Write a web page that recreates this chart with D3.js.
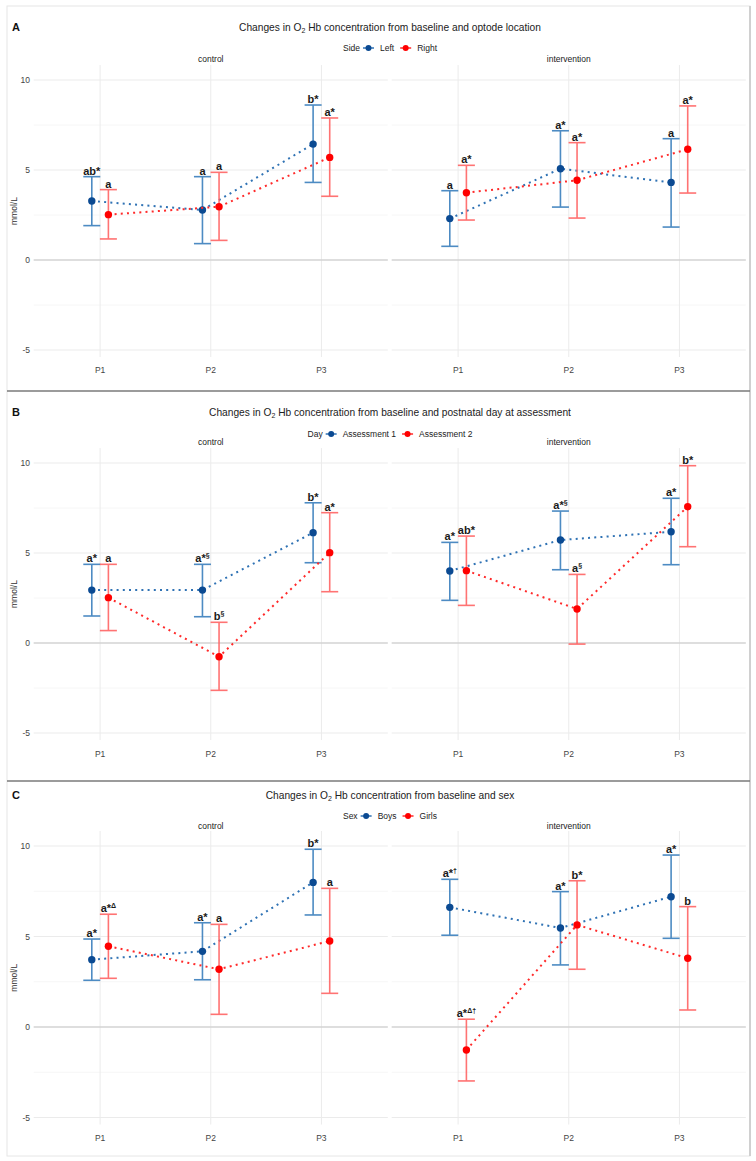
<!DOCTYPE html>
<html>
<head>
<meta charset="utf-8">
<script src="https://cdn.jsdelivr.net/npm/d3@7"></script>
<style>
  body { margin: 0; background: #fff; }
  text { font-family: "Liberation Sans", Arial, sans-serif; }
</style>
</head>
<body>
<script>
// facets and x categories
var periods = ["P1", "P2", "P3"];
var groups = ["control", "intervention"];
var yTicks = [-5, 0, 5, 10];
var yMinor = [-2.5, 2.5, 7.5];

// values are ordered control P1..P3, then intervention P1..P3

// A: optode location
var aSeries = ["Left", "Right"];
var aLeftMean  = [3.28, 2.78, 6.44, 2.30, 5.07, 4.31];
var aLeftLow   = [1.91, 0.91, 4.31, 0.76, 2.94, 1.83];
var aLeftHigh  = [4.63, 4.63, 8.61, 3.85, 7.18, 6.74];
var aLeftSig   = ["ab*", "a", "b*", "a", "a*", "a"];
var aRightMean = [2.52, 2.96, 5.70, 3.74, 4.43, 6.15];
var aRightLow  = [1.17, 1.09, 3.54, 2.22, 2.33, 3.72];
var aRightHigh = [3.91, 4.87, 7.89, 5.26, 6.52, 8.56];
var aRightSig  = ["a", "a", "a*", "a*", "a*", "a*"];

// B: postnatal day at assessment
var bSeries = ["Assessment 1", "Assessment 2"];
var bDay1Mean = [2.94, 2.94, 6.13, 4.00, 5.72, 6.18];
var bDay1Low  = [1.50, 1.46, 4.46, 2.37, 4.07, 4.35];
var bDay1High = [4.37, 4.37, 7.79, 5.59, 7.33, 8.04];
var bDay1Sig  = ["a*", "a*§", "b*", "a*", "a*§", "a*"];
var bDay2Mean = [2.52, -0.76, 5.02, 4.02, 1.89, 7.57];
var bDay2Low  = [0.69, -2.63, 2.85, 2.09, -0.06, 5.35];
var bDay2High = [4.37, 1.15, 7.24, 5.94, 3.81, 9.85];
var bDay2Sig  = ["a", "b§", "a*", "ab*", "a§", "b*"];

// C: sex
var cSeries = ["Boys", "Girls"];
var cBoysMean  = [3.72, 4.18, 7.99, 6.61, 5.47, 7.20];
var cBoysLow   = [2.58, 2.61, 6.19, 5.07, 3.43, 4.90];
var cBoysHigh  = [4.86, 5.76, 9.82, 8.16, 7.48, 9.50];
var cBoysSig   = ["a*", "a*", "b*", "a*†", "a*", "a*"];
var cGirlsMean = [4.46, 3.19, 4.75, -1.27, 5.64, 3.80];
var cGirlsLow  = [2.69, 0.70, 1.86, -2.98, 3.19, 0.94];
var cGirlsHigh = [6.23, 5.67, 7.66, 0.43, 8.08, 6.65];
var cGirlsSig  = ["a*Δ", "a", "a", "a*Δ†", "b*", "b"];

var width = 756, height = 1161;

var barCol = ["#3a7fbd", "#ff6464"];
var ptCol = ["#0b4a92", "#ff0000"];
var lineCol = ["#2f72b4", "#ff2a2a"];

var svg = d3.select("body").append("svg")
    .attr("width", width)
    .attr("height", height);

svg.append("rect").attr("width", width).attr("height", height).attr("fill", "#fff");

// outer frame and separators
svg.append("rect")
    .attr("x", 7).attr("y", 6).attr("width", 743).attr("height", 1150)
    .attr("fill", "none").attr("stroke", "#e6e6e6").attr("stroke-width", 1);
svg.append("line").attr("x1", 750).attr("x2", 750).attr("y1", 6).attr("y2", 1156)
    .attr("stroke", "#d0d0d0").attr("stroke-width", 2);
[391, 781].forEach(function(y) {
    svg.append("line").attr("x1", 7).attr("x2", 750).attr("y1", y).attr("y2", y)
        .attr("stroke", "#7a7a7a").attr("stroke-width", 1.5);
});

function rows(mean, low, high, sig) {
    return mean.map(function(m, i) {
        return { group: groups[Math.floor(i / 3)], period: periods[i % 3],
                 mean: m, low: low[i], high: high[i], sig: sig[i] };
    });
}

var panels = [
    { letter: "A", title: " from baseline and optode location", legendTitle: "Side",
      names: aSeries, zero: 260, ppu: 18, titleY: 27, legendY: 48, stripY: 59, tickY: 370,
      series: [rows(aLeftMean, aLeftLow, aLeftHigh, aLeftSig),
               rows(aRightMean, aRightLow, aRightHigh, aRightSig)] },
    { letter: "B", title: " from baseline and postnatal day at assessment", legendTitle: "Day",
      names: bSeries, zero: 643, ppu: 18, titleY: 412, legendY: 434, stripY: 442, tickY: 754,
      series: [rows(bDay1Mean, bDay1Low, bDay1High, bDay1Sig),
               rows(bDay2Mean, bDay2Low, bDay2High, bDay2Sig)] },
    { letter: "C", title: " from baseline and sex", legendTitle: "Sex",
      names: cSeries, zero: 1027, ppu: 18.1, titleY: 795, legendY: 816, stripY: 826, tickY: 1138,
      series: [rows(cBoysMean, cBoysLow, cBoysHigh, cBoysSig),
               rows(cGirlsMean, cGirlsLow, cGirlsHigh, cGirlsSig)] }
];

var facetRange = { control: [33.7, 387.8], intervention: [391.7, 745.8] };
var dodge = [-8.3, 8.3];
var centerX = 390;

panels.forEach(function(p) {
    var g = svg.append("g");

    var y = d3.scaleLinear()
        .domain([-5.39, 10.83])
        .range([p.zero + 5.39 * p.ppu, p.zero - 10.83 * p.ppu]);
    var top = y.range()[1], bottom = y.range()[0];

    // panel letter
    g.append("text").attr("x", 12).attr("y", p.titleY)
        .attr("dominant-baseline", "central")
        .attr("font-size", 11).attr("font-weight", "bold").attr("fill", "#111")
        .text(p.letter);

    // title with subscript
    var t = g.append("text").attr("x", centerX).attr("y", p.titleY)
        .attr("dominant-baseline", "central").attr("text-anchor", "middle")
        .attr("font-size", 10.2).attr("fill", "#222");
    t.append("tspan").text("Changes in  O");
    t.append("tspan").attr("font-size", 7).attr("dy", 3).text("2");
    t.append("tspan").attr("dy", -3).text(" Hb concentration" + p.title);

    // legend
    var lg = g.append("g");
    var lx = 0;
    var lt = lg.append("text").attr("x", lx).attr("y", p.legendY)
        .attr("dominant-baseline", "central").attr("font-size", 8.5).attr("fill", "#222")
        .text(p.legendTitle);
    lx += lt.node().getComputedTextLength() + 3;
    p.names.forEach(function(nm, i) {
        lg.append("line").attr("x1", lx).attr("x2", lx + 11)
            .attr("y1", p.legendY).attr("y2", p.legendY)
            .attr("stroke", lineCol[i]).attr("stroke-width", 1.5);
        lg.append("circle").attr("cx", lx + 5.5).attr("cy", p.legendY).attr("r", 3)
            .attr("fill", ptCol[i]);
        lx += 17;
        var tt = lg.append("text").attr("x", lx).attr("y", p.legendY)
            .attr("dominant-baseline", "central").attr("font-size", 8.5).attr("fill", "#222")
            .text(nm);
        lx += tt.node().getComputedTextLength() + 6;
    });
    lg.attr("transform", "translate(" + (centerX - (lx - 6) / 2) + ",0)");

    // y axis
    g.append("text")
        .attr("transform", "translate(14," + ((top + bottom) / 2) + ") rotate(-90)")
        .attr("text-anchor", "middle").attr("dominant-baseline", "central")
        .attr("font-size", 8.5).attr("fill", "#333")
        .text("mmol/L");
    g.selectAll(".ytick").data(yTicks).enter().append("text")
        .attr("x", 30).attr("y", function(d) { return y(d); })
        .attr("text-anchor", "end").attr("dominant-baseline", "central")
        .attr("font-size", 8.5).attr("fill", "#444")
        .text(function(d) { return d; });

    groups.forEach(function(grp) {
        var x = d3.scalePoint().domain(periods).range(facetRange[grp]).padding(0.6);
        var x0 = facetRange[grp][0], x1 = facetRange[grp][1];
        var fg = g.append("g");

        // strip
        fg.append("text").attr("x", (x0 + x1) / 2).attr("y", p.stripY)
            .attr("text-anchor", "middle").attr("dominant-baseline", "central")
            .attr("font-size", 8.5).attr("fill", "#222").text(grp);

        // grid
        fg.selectAll(".minor").data(yMinor).enter().append("line")
            .attr("x1", x0).attr("x2", x1)
            .attr("y1", function(d) { return y(d); }).attr("y2", function(d) { return y(d); })
            .attr("stroke", "#f4f4f4").attr("stroke-width", 0.8);
        fg.selectAll(".major").data(yTicks).enter().append("line")
            .attr("x1", x0).attr("x2", x1)
            .attr("y1", function(d) { return y(d); }).attr("y2", function(d) { return y(d); })
            .attr("stroke", "#ebebeb").attr("stroke-width", 1);
        fg.selectAll(".vgrid").data(periods).enter().append("line")
            .attr("x1", function(d) { return x(d); }).attr("x2", function(d) { return x(d); })
            .attr("y1", top).attr("y2", bottom)
            .attr("stroke", "#ebebeb").attr("stroke-width", 1);
        fg.append("line").attr("x1", x0).attr("x2", x1)
            .attr("y1", y(0)).attr("y2", y(0))
            .attr("stroke", "#c8c8c8").attr("stroke-width", 1.2);

        // x tick labels
        fg.selectAll(".xtick").data(periods).enter().append("text")
            .attr("x", function(d) { return x(d); }).attr("y", p.tickY)
            .attr("text-anchor", "middle").attr("dominant-baseline", "central")
            .attr("font-size", 8.5).attr("fill", "#444")
            .text(function(d) { return d; });

        p.series.forEach(function(s, si) {
            var data = s.filter(function(d) { return d.group === grp; });
            var px = function(d) { return x(d.period) + dodge[si]; };

            // dotted connecting line
            var line = d3.line().x(px).y(function(d) { return y(d.mean); });
            fg.append("path").datum(data)
                .attr("d", line).attr("fill", "none")
                .attr("stroke", lineCol[si]).attr("stroke-width", 2)
                .attr("stroke-dasharray", "2,4.2");

            // error bars
            var eb = fg.selectAll(".eb" + si).data(data).enter().append("g")
                .attr("stroke", barCol[si]).attr("stroke-width", 1.6).attr("opacity", 0.9);
            eb.append("line")
                .attr("x1", px).attr("x2", px)
                .attr("y1", function(d) { return y(d.low); })
                .attr("y2", function(d) { return y(d.high); });
            eb.append("line")
                .attr("x1", function(d) { return px(d) - 8.5; })
                .attr("x2", function(d) { return px(d) + 8.5; })
                .attr("y1", function(d) { return y(d.high); })
                .attr("y2", function(d) { return y(d.high); });
            eb.append("line")
                .attr("x1", function(d) { return px(d) - 8.5; })
                .attr("x2", function(d) { return px(d) + 8.5; })
                .attr("y1", function(d) { return y(d.low); })
                .attr("y2", function(d) { return y(d.low); });

            // points
            fg.selectAll(".pt" + si).data(data).enter().append("circle")
                .attr("cx", px).attr("cy", function(d) { return y(d.mean); })
                .attr("r", 3.7).attr("fill", ptCol[si]);

            // significance letters: letters and * at full size, symbols raised
            fg.selectAll(".sig" + si).data(data).enter().append("text")
                .attr("x", px).attr("y", function(d) { return y(d.high) - 2; })
                .attr("text-anchor", "middle")
                .attr("font-size", 11).attr("font-weight", "bold").attr("fill", "#1a1a1a")
                .each(function(d) {
                    var el = d3.select(this);
                    var base = d.sig.match(/^[ab]+\*?/)[0];
                    var rest = d.sig.slice(base.length);
                    el.append("tspan").text(base);
                    if (rest) {
                        el.append("tspan").attr("font-size", 7).attr("dy", -4).text(rest);
                    }
                });
        });
    });
});
</script>
</body>
</html>
